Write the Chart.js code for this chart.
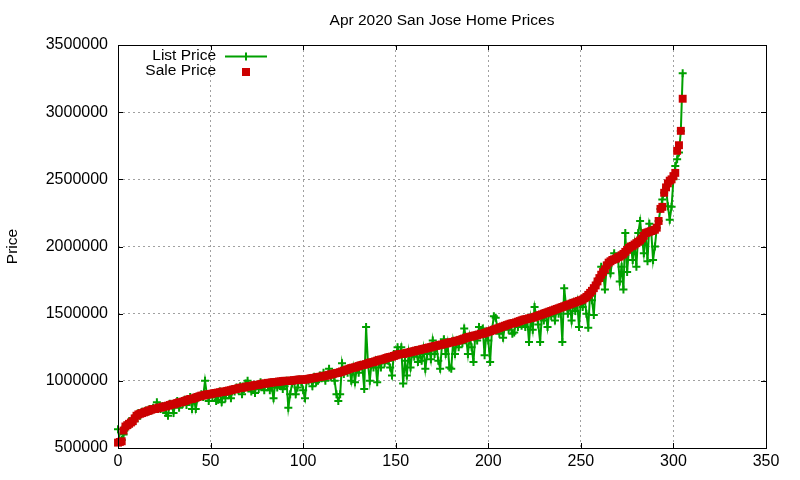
<!DOCTYPE html>
<html>
<head>
<meta charset="utf-8">
<title>Apr 2020 San Jose Home Prices</title>
<script src="https://cdn.jsdelivr.net/npm/chart.js@4.4.1/dist/chart.umd.min.js"></script>
<style>
  html, body { margin: 0; padding: 0; background: #fff; }
  #wrap { width: 800px; height: 480px; }
</style>
</head>
<body>
<div id="wrap"><canvas id="home-prices"></canvas></div>
<script>
//
// Data (prices in $1000s, homes sorted by sale price)
//

var salePrice = [
	540, 545, 550, 630, 660, 670, 680, 690, 700, 720,
	740, 750, 755, 760, 765, 770, 775, 780, 785, 790,
	790, 795, 800, 800, 805, 810, 810, 815, 820, 825,
	825, 830, 835, 840, 840, 845, 850, 855, 860, 865,
	865, 870, 875, 880, 885, 890, 890, 895, 899, 900,
	900, 905, 908, 910, 912, 915, 918, 920, 920, 925,
	928, 930, 935, 938, 940, 945, 948, 950, 950, 955,
	958, 960, 960, 965, 968, 970, 970, 975, 978, 980,
	980, 985, 985, 988, 990, 990, 992, 995, 995, 998,
	1000, 1000, 1000, 1000, 1002, 1005, 1005, 1008, 1010, 1010,
	1008, 1010, 1012, 1015, 1018, 1020, 1022, 1025, 1028, 1030,
	1032, 1035, 1038, 1040, 1045, 1048, 1050, 1055, 1058, 1060,
	1065, 1070, 1075, 1080, 1085, 1090, 1095, 1098, 1100, 1105,
	1110, 1115, 1118, 1120, 1125, 1130, 1135, 1138, 1140, 1145,
	1150, 1155, 1158, 1160, 1165, 1170, 1175, 1178, 1180, 1185,
	1190, 1195, 1198, 1200, 1200, 1205, 1208, 1210, 1215, 1218,
	1220, 1225, 1228, 1230, 1235, 1238, 1240, 1245, 1248, 1250,
	1255, 1258, 1260, 1265, 1268, 1270, 1275, 1278, 1280, 1285,
	1288, 1290, 1295, 1298, 1300, 1305, 1310, 1315, 1320, 1325,
	1328, 1330, 1335, 1338, 1340, 1345, 1350, 1350, 1355, 1360,
	1365, 1370, 1375, 1380, 1385, 1390, 1395, 1400, 1405, 1410,
	1415, 1420, 1425, 1428, 1430, 1435, 1440, 1445, 1450, 1455,
	1458, 1460, 1465, 1468, 1470, 1475, 1480, 1485, 1490, 1495,
	1500, 1505, 1510, 1515, 1520, 1525, 1530, 1535, 1540, 1545,
	1550, 1555, 1560, 1565, 1570, 1575, 1580, 1585, 1590, 1595,
	1600, 1605, 1615, 1625, 1640, 1655, 1670, 1690, 1710, 1740,
	1765, 1790, 1810, 1830, 1860, 1880, 1890, 1900, 1905, 1910,
	1920, 1925, 1935, 1945, 1960, 1975, 1990, 2000, 2005, 2015,
	2025, 2035, 2045, 2060, 2080, 2100, 2105, 2110, 2115, 2120,
	2125, 2140, 2190, 2280, 2295, 2400, 2440, 2470, 2490, 2500,
	2524, 2548, 2712, 2754, 2861, 3100
];

var listPrice = [
	640, 550, 560, 600, 660, 650, 700, 690, 720, 700,
	740, 760, 740, 770, 760, 780, 770, 790, 780, 800,
	790, 840, 800, 790, 810, 800, 760, 740, 830, 820,
	760, 830, 850, 800, 840, 830, 860, 820, 850, 880,
	790, 870, 790, 870, 880, 900, 880, 1000, 900, 850,
	900, 880, 910, 850, 860, 920, 840, 900, 870, 920,
	900, 870, 940, 920, 950, 930, 960, 900, 940, 980,
	1000, 960, 920, 960, 910, 970, 940, 990, 960, 930,
	980, 960, 930, 950, 870, 990, 950, 970, 960, 940,
	960, 1000, 800, 900, 980, 1000, 900, 950, 1010, 990,
	930, 870, 1010, 1000, 1020, 960, 1030, 990, 1000, 1040,
	1020, 1060, 1000, 1040, 1090, 1030, 1050, 1000, 900, 850,
	900, 1130, 1050, 1080, 1060, 1090, 1000, 1098, 990, 1100,
	1060, 1120, 1100, 940, 1400, 1130, 1000, 1140, 1100, 1150,
	990, 1150, 1100, 1160, 1130, 1170, 1150, 1100, 1040, 1200,
	1190, 1250, 1200, 1250, 980, 1150, 1040, 1210, 1100, 1220,
	1180, 1230, 1140, 1200, 1150, 1240, 1090, 1200, 1250, 1160,
	1300, 1200, 1260, 1150, 1090, 1270, 1310, 1200, 1280, 1100,
	1090, 1290, 1200, 1300, 1250, 1310, 1280, 1390, 1320, 1200,
	1330, 1250, 1140, 1340, 1300, 1400, 1350, 1390, 1190, 1360,
	1300, 1140, 1380, 1480, 1470, 1390, 1350, 1400, 1320, 1410,
	1415, 1380, 1425, 1350, 1360, 1435, 1400, 1445, 1410, 1455,
	1400, 1460, 1290, 1468, 1380, 1550, 1480, 1420, 1290, 1495,
	1450, 1505, 1400, 1515, 1480, 1525, 1450, 1535, 1500, 1545,
	1290, 1690, 1560, 1500, 1570, 1450, 1580, 1520, 1590, 1400,
	1600, 1550, 1615, 1500, 1395, 1655, 1600, 1490, 1710, 1740,
	1765, 1850, 1810, 1680, 1860, 1880, 1800, 1900, 1950, 1910,
	1920, 1740, 1850, 1680, 2100, 1810, 1990, 2000, 1900, 2015,
	1850, 2100, 2190, 2060, 1950, 2100, 1890, 2170, 2115, 1900,
	2000, 2140, 2190, 2280, 2350, 2400, 2440, 2300, 2200, 2295,
	2500, 2600, 2650, 2700, 2860, 3290
];

var xTicks = [0, 50, 100, 150, 200, 250, 300, 350];
var yTicks = [500000, 1000000, 1500000, 2000000, 2500000, 3000000, 3500000];

var chartTitle = 'Apr 2020 San Jose Home Prices';
var seriesNames = ['List Price', 'Sale Price'];
var greenColor = '#00a000';
var redColor = '#cc0000';
var fontFamily = '"Liberation Sans", Arial, sans-serif';


//
// Plugins
//

// gnuplot-like frame, title, inward tick marks and key
var gnuplotFrame = {
	id: 'gnuplotFrame',
	afterDraw: function(chart) {
		var ctx = chart.ctx;
		var area = chart.chartArea;
		var xs = chart.scales.x;
		var ys = chart.scales.y;
		var tick = 5;

		ctx.save();
		ctx.strokeStyle = '#000';
		ctx.lineWidth = 1;
		ctx.setLineDash([]);
		ctx.strokeRect(Math.round(area.left) + 0.5, Math.round(area.top) + 0.5,
			Math.round(area.right - area.left), Math.round(area.bottom - area.top));

		ctx.beginPath();
		xTicks.forEach(function(v) {
			var px = Math.round(xs.getPixelForValue(v)) + 0.5;
			ctx.moveTo(px, area.bottom); ctx.lineTo(px, area.bottom - tick);
			ctx.moveTo(px, area.top); ctx.lineTo(px, area.top + tick);
		});
		yTicks.forEach(function(v) {
			var py = Math.round(ys.getPixelForValue(v)) + 0.5;
			ctx.moveTo(area.left, py); ctx.lineTo(area.left + tick, py);
			ctx.moveTo(area.right, py); ctx.lineTo(area.right - tick, py);
		});
		ctx.stroke();

		// title, centred over the plot
		ctx.fillStyle = '#000';
		ctx.textAlign = 'center';
		ctx.textBaseline = 'middle';
		ctx.font = '15.5px ' + fontFamily;
		ctx.fillText(chartTitle, (area.left + area.right) / 2, 21);

		// key
		ctx.textAlign = 'right';
		ctx.fillText(seriesNames[0], 216, 56);
		ctx.fillText(seriesNames[1], 216, 71);

		ctx.strokeStyle = greenColor;
		ctx.lineWidth = 2;
		ctx.beginPath();
		ctx.moveTo(225, 56.5); ctx.lineTo(267, 56.5);
		ctx.moveTo(246, 52.5); ctx.lineTo(246, 60.5);
		ctx.stroke();

		ctx.fillStyle = redColor;
		ctx.fillRect(242, 68, 8, 8);
		ctx.restore();
	}
};


//
// Chart
//

function initChart(canvas) {

	var listPoints = listPrice.map(function(v, i) { return { x: i, y: v * 1000 }; });
	var salePoints = salePrice.map(function(v, i) { return { x: i, y: v * 1000 }; });

	return new Chart(canvas, {
		type: 'line',
		data: {
			datasets: [{
				label: seriesNames[1],
				data: salePoints,
				showLine: false,
				pointStyle: 'rect',
				pointRadius: 5.6,
				pointBorderWidth: 0,
				backgroundColor: redColor,
				borderColor: redColor,
				clip: false,
				order: 0
			}, {
				label: seriesNames[0],
				data: listPoints,
				borderColor: greenColor,
				backgroundColor: greenColor,
				borderWidth: 2,
				pointStyle: 'cross',
				pointRadius: 4,
				pointBorderWidth: 2,
				tension: 0,
				clip: false,
				order: 1
			}]
		},
		options: {
			responsive: true,
			maintainAspectRatio: false,
			animation: false,
			layout: { padding: { top: 45, right: 34, bottom: 0, left: 0 } },
			plugins: {
				legend: { display: false },
				tooltip: { enabled: false },
				title: { display: false }
			},
			scales: {
				x: {
					type: 'linear',
					min: 0,
					max: 350,
					afterBuildTicks: function(scale) {
						scale.ticks = xTicks.map(function(v) { return { value: v }; });
					},
					afterFit: function(scale) { scale.height = 32; },
					grid: { color: '#a0a0a0', lineWidth: 1, drawTicks: false },
					border: { display: false, dash: [2, 3] },
					ticks: {
						color: '#000',
						padding: 4,
						maxRotation: 0,
						font: { family: fontFamily, size: 16 },
						callback: function(v) { return String(v); }
					}
				},
				y: {
					type: 'linear',
					min: 500000,
					max: 3500000,
					afterBuildTicks: function(scale) {
						scale.ticks = yTicks.map(function(v) { return { value: v }; });
					},
					afterFit: function(scale) { scale.width = 118; },
					grid: { color: '#a0a0a0', lineWidth: 1, drawTicks: false },
					border: { display: false, dash: [2, 3] },
					title: {
						display: true,
						text: 'Price',
						color: '#000',
						font: { family: fontFamily, size: 15.5 },
						padding: { top: 3, bottom: 0 }
					},
					ticks: {
						color: '#000',
						padding: 10,
						font: { family: fontFamily, size: 16 },
						callback: function(v) { return String(v); }
					}
				}
			}
		},
		plugins: [gnuplotFrame]
	});
}

var homePricesChart = initChart(document.getElementById('home-prices'));
</script>
</body>
</html>
